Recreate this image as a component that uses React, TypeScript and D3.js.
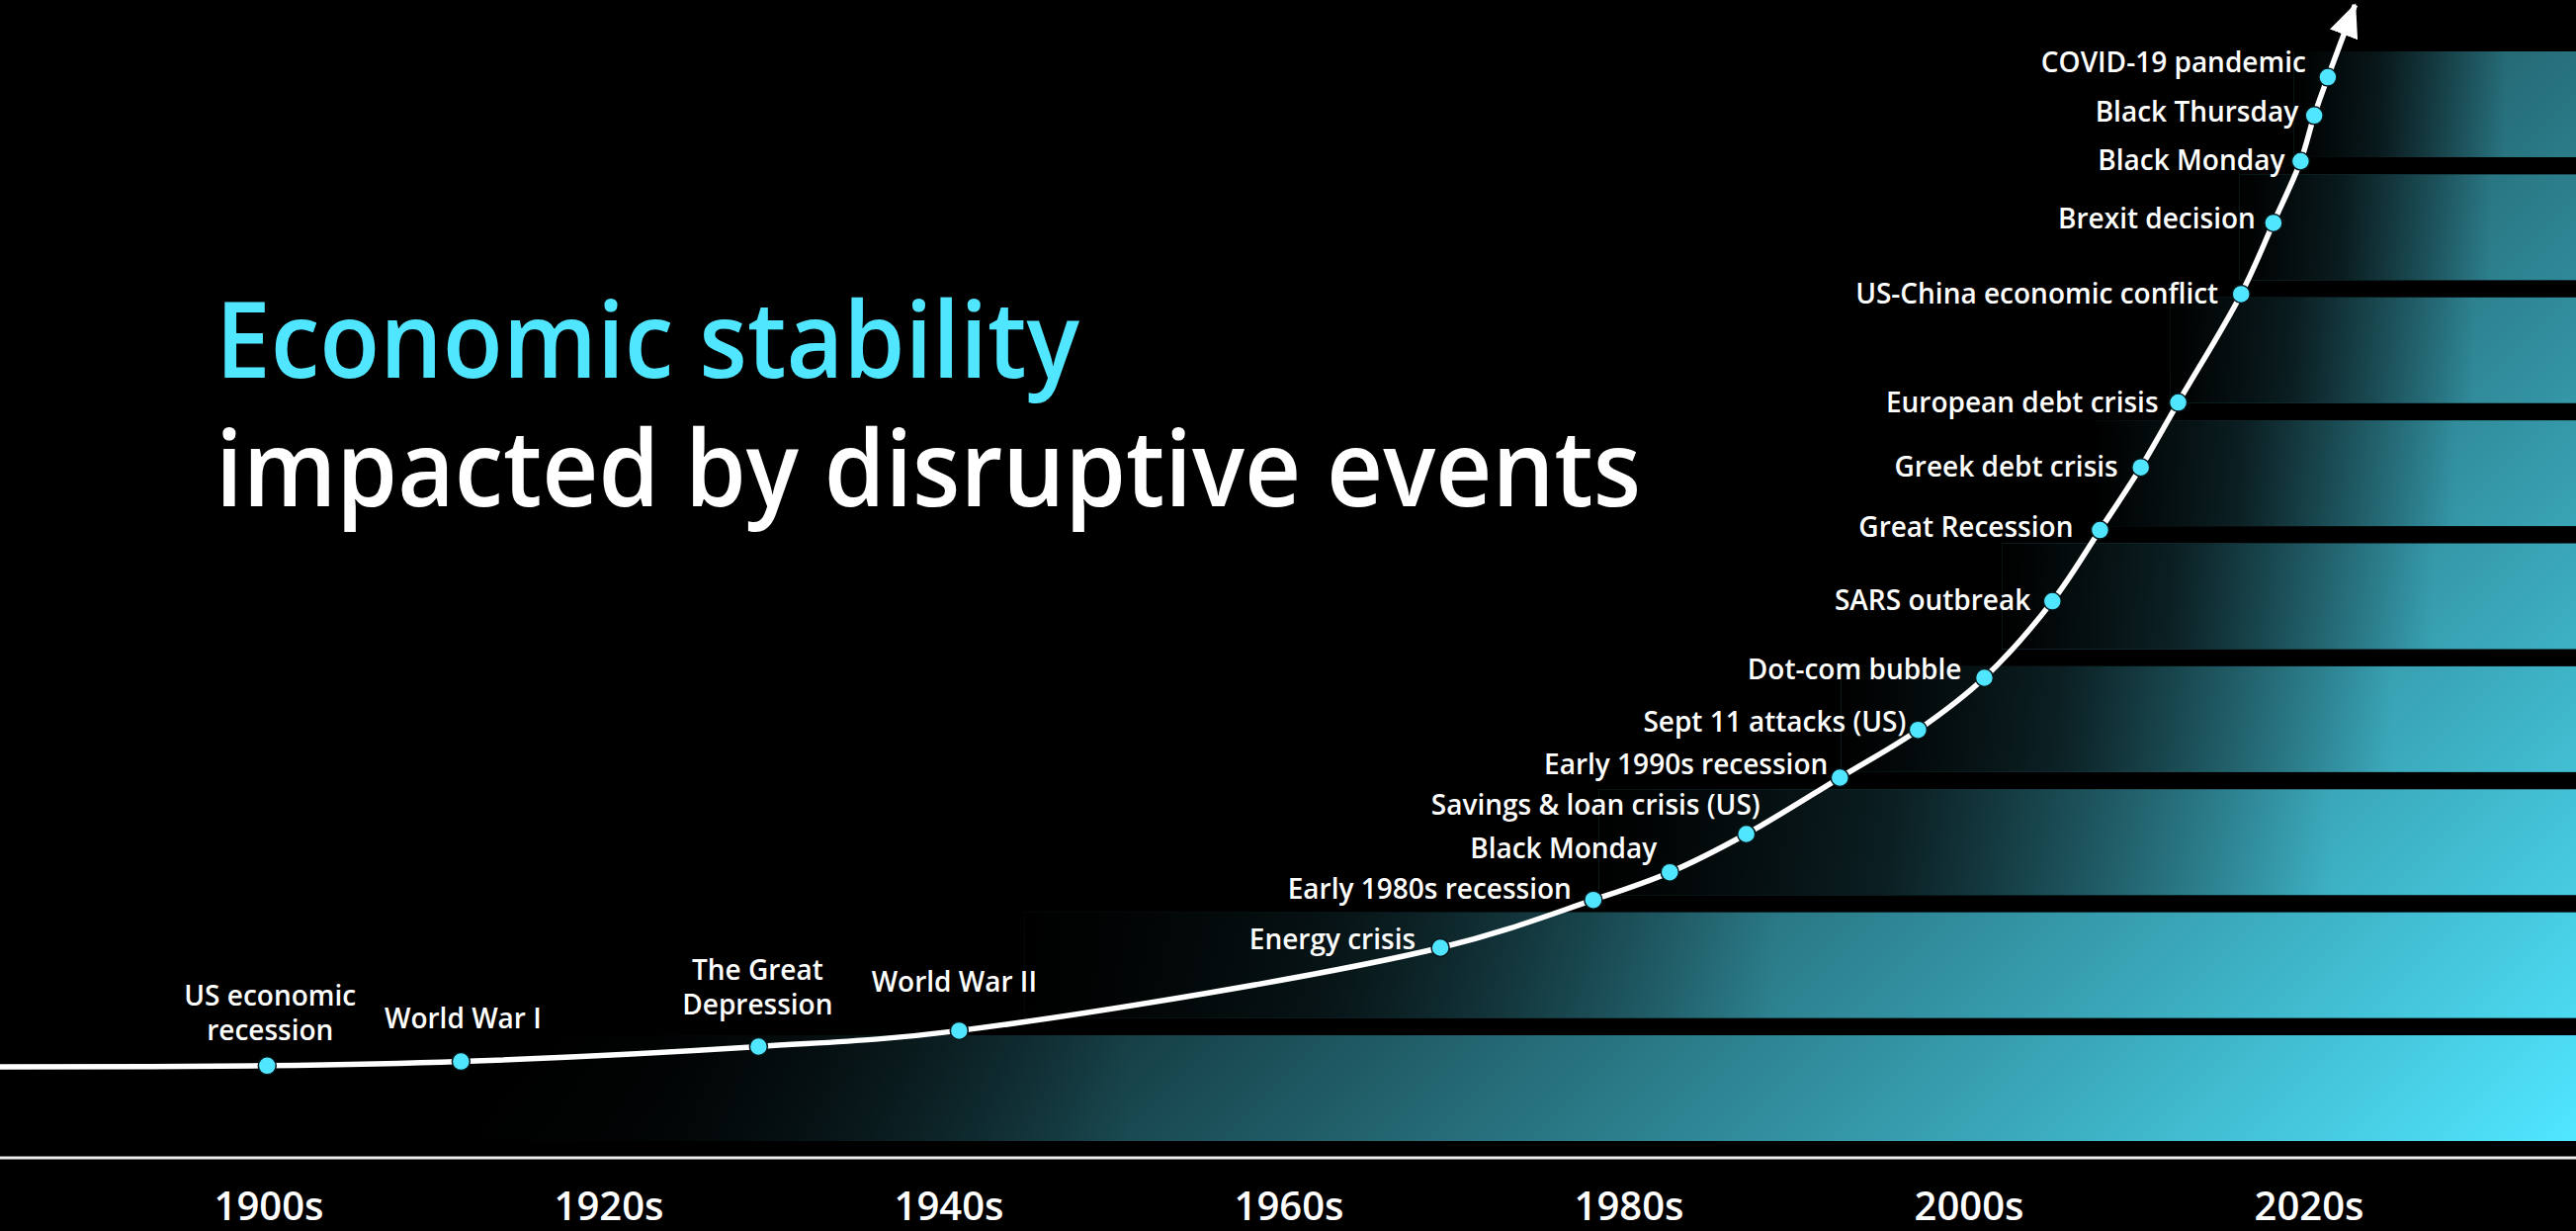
import React, { FC } from 'react';
import * as d3 from 'd3';

const width = 2606;
const height = 1245;

const titleLines = ['Economic stability', 'impacted by disruptive events'];

const decades = [1900, 1920, 1940, 1960, 1980, 2000, 2020];
const decadeLabels = ['1900s', '1920s', '1940s', '1960s', '1980s', '2000s', '2020s'];

// events along the trend line (label lines, position in time, instability level 0-100)
const eventNames: string[][] = [
  ['US economic', 'recession'],
  ['World War I'],
  ['The Great', 'Depression'],
  ['World War II'],
  ['Energy crisis'],
  ['Early 1980s recession'],
  ['Black Monday'],
  ['Savings & loan crisis (US)'],
  ['Early 1990s recession'],
  ['Sept 11 attacks (US)'],
  ['Dot-com bubble'],
  ['SARS outbreak'],
  ['Great Recession'],
  ['Greek debt crisis'],
  ['European debt crisis'],
  ['US-China economic conflict'],
  ['Brexit decision'],
  ['Black Monday'],
  ['Black Thursday'],
  ['COVID-19 pandemic'],
];
const eventYears = [
  1899.9, 1911.3, 1928.8, 1940.6, 1968.9, 1977.9, 1982.4, 1986.9, 1992.4, 1997.0,
  2000.9, 2004.9, 2007.7, 2010.1, 2012.3, 2016.0, 2017.9, 2019.5, 2020.3, 2021.1,
];
const eventLevels = [
  0.2, 0.6, 2.0, 3.5, 11.3, 15.8, 18.4, 22.0, 27.3, 31.8,
  36.7, 43.9, 50.6, 56.5, 62.6, 72.8, 79.5, 85.3, 89.6, 93.2,
];

// where the line enters on the left and where the arrow tip sits
const trendStart: [number, number] = [1883.9, 0.1];
const trendEnd: [number, number] = [2022.7, 100];

const bandCount = 9;

/* label placement relative to its dot (baseline of the last line) */
type LabelPos = { anchor: 'middle' | 'end'; dx: number; dy: number };
const labelPos: LabelPos[] = [
  { anchor: 'middle', dx: 3, dy: -26 },
  { anchor: 'middle', dx: 2, dy: -34 },
  { anchor: 'middle', dx: -1, dy: -33 },
  { anchor: 'middle', dx: -5, dy: -39 },
  { anchor: 'end', dx: -25, dy: 1 },
  { anchor: 'end', dx: -22, dy: -1 },
  { anchor: 'end', dx: -13, dy: -14 },
  { anchor: 'end', dx: 14, dy: -20 },
  { anchor: 'end', dx: -12, dy: -4 },
  { anchor: 'end', dx: -12, dy: 2 },
  { anchor: 'end', dx: -23, dy: 2 },
  { anchor: 'end', dx: -22, dy: 9 },
  { anchor: 'end', dx: -27, dy: 7 },
  { anchor: 'end', dx: -23, dy: 9 },
  { anchor: 'end', dx: -20, dy: 10 },
  { anchor: 'end', dx: -23, dy: 10 },
  { anchor: 'end', dx: -18, dy: 6 },
  { anchor: 'end', dx: -16, dy: 9 },
  { anchor: 'end', dx: -16, dy: 6 },
  { anchor: 'end', dx: -22, dy: -5 },
];

const CYAN = '#50e6ff';
const FONT = '"Open Sans", "Noto Sans", sans-serif';

const App: FC = () => {
  const x = d3.scaleLinear().domain([1900, 2020]).range([272, 2336]);
  const y = d3.scaleLinear().domain([0, 100]).range([1080, 5]);
  const band = d3
    .scaleBand<number>()
    .domain(d3.range(bandCount))
    .range([52, 1154])
    .paddingInner(0.14);

  const trend: [number, number][] = [
    trendStart,
    ...eventYears.map((yr, i) => [yr, eventLevels[i]] as [number, number]),
    trendEnd,
  ];

  const line = d3
    .line<[number, number]>()
    .x((d) => x(d[0]))
    .y((d) => y(d[1]))
    .curve(d3.curveCatmullRom.alpha(0.5));

  // year at which the trend reaches a level (linear between points)
  const yearAtLevel = (lv: number): number | null => {
    for (let i = 0; i < trend.length - 1; i++) {
      const a = trend[i];
      const b = trend[i + 1];
      if (lv >= a[1] && lv <= b[1]) {
        const t = (lv - a[1]) / (b[1] - a[1] || 1);
        return a[0] + t * (b[0] - a[0]);
      }
    }
    return null;
  };

  const bands = d3.range(bandCount).map((i) => {
    const top = band(i) as number;
    const bottom = top + band.bandwidth();
    const yrBottom = yearAtLevel(y.invert(bottom));
    let x0: number;
    if (yrBottom !== null) {
      x0 = x(yrBottom) - 8;
    } else {
      const yrTop = yearAtLevel(y.invert(top));
      x0 = yrTop !== null ? x(yrTop) * 0.42 : 0;
    }
    const w = width - x0;
    return { top, h: band.bandwidth(), x0, w, fade: Math.min(w * 0.75, 760) };
  });

  return (
    <div>
      <style>{'body{margin:0;background:#000}'}</style>
      <svg width={width} height={height} style={{ display: 'block', background: '#000' }}>
        <defs>
          <linearGradient
            id="bandFill"
            gradientUnits="userSpaceOnUse"
            x1={1525}
            y1={75}
            x2={2600}
            y2={1150}
          >
            <stop offset="0" stopColor="#000" />
            <stop offset="1" stopColor={CYAN} />
          </linearGradient>
          <linearGradient id="bandFade" x1="0" y1="0" x2="1" y2="0">
            <stop offset="0" stopColor="#000" stopOpacity={1} />
            <stop offset="0.4" stopColor="#000" stopOpacity={0.75} />
            <stop offset="1" stopColor="#000" stopOpacity={0} />
          </linearGradient>
          <marker
            id="arrow"
            markerUnits="userSpaceOnUse"
            viewBox="0 0 34 30"
            markerWidth={34}
            markerHeight={30}
            refX={32}
            refY={15}
            orient="auto"
          >
            <path d="M0,0 L34,15 L0,30 Z" fill="#fff" />
          </marker>
        </defs>

        <rect width={width} height={height} fill="#000" />

        <g id="bands">
          {bands.map((b, i) => (
            <g key={i}>
              <rect x={b.x0} y={b.top} width={b.w} height={b.h} fill="url(#bandFill)" />
              <rect x={b.x0} y={b.top} width={b.fade} height={b.h} fill="url(#bandFade)" />
            </g>
          ))}
        </g>

        <line x1={0} x2={width} y1={1171} y2={1171} stroke="#e8e8e8" strokeWidth={3} />

        <path
          d={line(trend) || ''}
          fill="none"
          stroke="#fff"
          strokeWidth={5.5}
          markerEnd="url(#arrow)"
        />

        <g id="events" fontFamily={FONT} fontSize={28} fontWeight={600} fill="#fff">
          {eventYears.map((yr, i) => {
            const cx = x(yr);
            const cy = y(eventLevels[i]);
            const p = labelPos[i];
            const lines = eventNames[i];
            return (
              <g key={i}>
                <circle cx={cx} cy={cy} r={9} fill={CYAN} stroke="#06161a" strokeWidth={1.5} />
                <text textAnchor={p.anchor}>
                  {lines.map((t, j) => (
                    <tspan key={j} x={cx + p.dx} y={cy + p.dy - (lines.length - 1 - j) * 35}>
                      {t}
                    </tspan>
                  ))}
                </text>
              </g>
            );
          })}
        </g>

        <g id="title" fontFamily={FONT} fontSize={106} fontWeight={600}>
          <text x={218} y={382} fill={CYAN} textLength={874} lengthAdjust="spacingAndGlyphs">
            {titleLines[0]}
          </text>
          <text x={218} y={512} fill="#fff" textLength={1442} lengthAdjust="spacingAndGlyphs">
            {titleLines[1]}
          </text>
        </g>

        <g id="x-axis" fontFamily={FONT} fontSize={40} fontWeight={600} fill="#fff" textAnchor="middle">
          {decades.map((d, i) => (
            <text key={d} x={x(d)} y={1234}>
              {decadeLabels[i]}
            </text>
          ))}
        </g>
      </svg>
    </div>
  );
};

export default App;
